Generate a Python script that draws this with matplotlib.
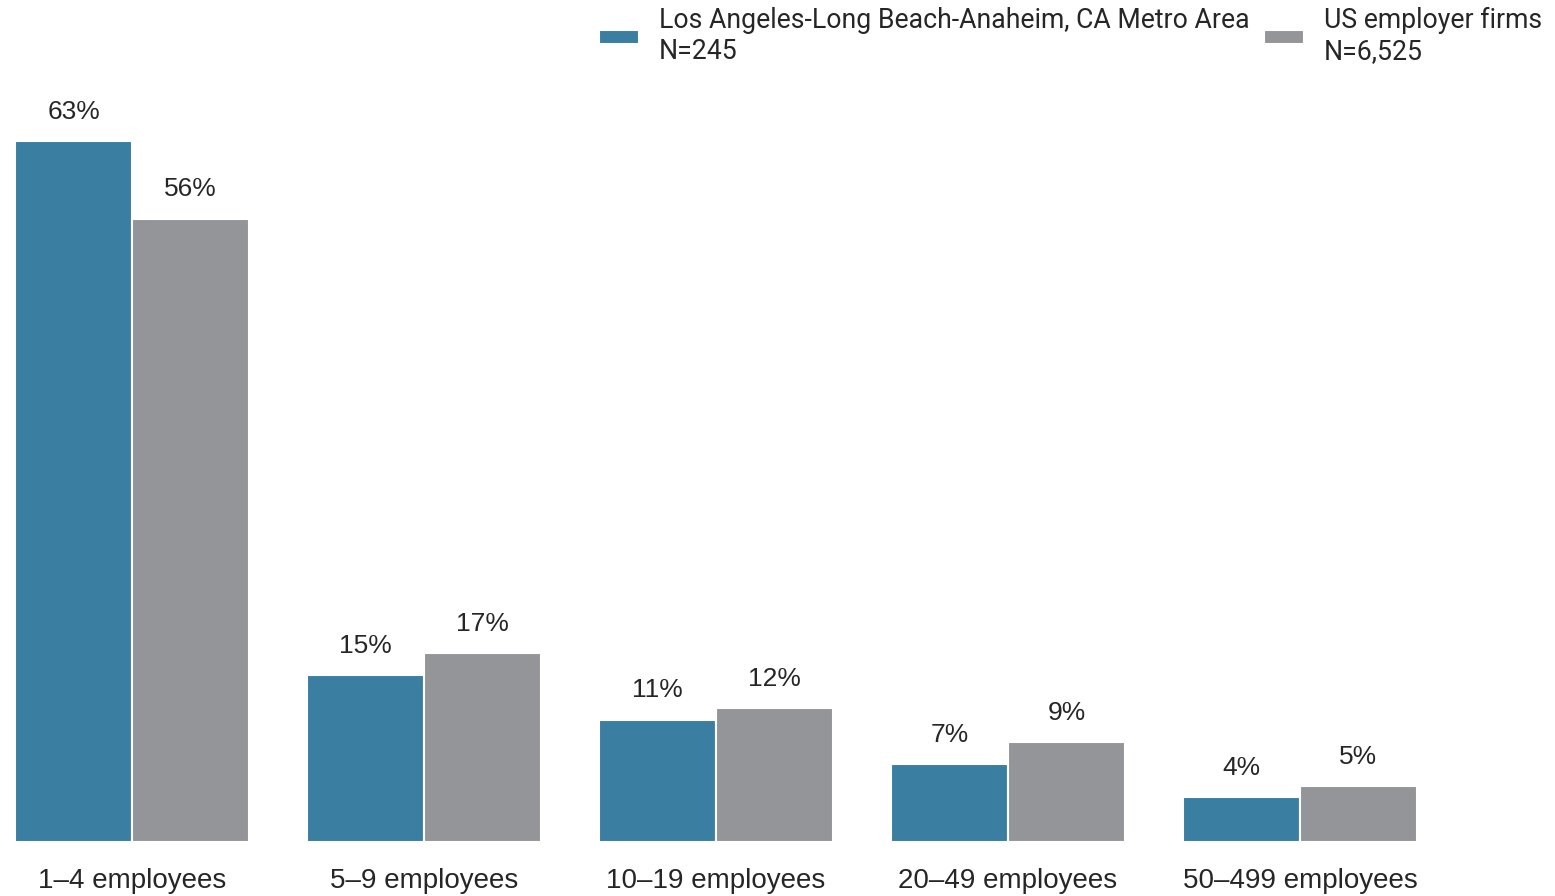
import matplotlib
matplotlib.use("Agg")
import matplotlib.pyplot as plt
import numpy as np

categories = ["1–4 employees", "5–9 employees", "10–19 employees",
              "20–49 employees", "50–499 employees"]
la_metro = [63, 15, 11, 7, 4]
us_firms = [56, 17, 12, 9, 5]
series_names = ["Los Angeles-Long Beach-Anaheim, CA Metro Area\nN=245",
                "US employer firms\nN=6,525"]

blue = "#3a7ea1"
gray = "#939598"
text_color = "#262626"

fig = plt.figure(figsize=(15.55, 8.96), dpi=100)
ax = fig.add_axes([0, 1 - 842 / 896, 1, 842 / 896])

x = np.arange(len(categories))
w = 0.4
b1 = ax.bar(x - w / 2, la_metro, width=w, color=blue, edgecolor="white", linewidth=1.5)
b2 = ax.bar(x + w / 2, us_firms, width=w, color=gray, edgecolor="white", linewidth=1.5)

for bars, vals in ((b1, la_metro), (b2, us_firms)):
    for rect, v in zip(bars, vals):
        ax.annotate(f"{v}%", (rect.get_x() + rect.get_width() / 2, v),
                    xytext=(0, 16), textcoords="offset points",
                    ha="center", va="baseline", fontsize=19,
                    family="Liberation Sans", color=text_color)

ax.set_xlim(-132 / 292, (1555 - 132) / 292)
ax.set_ylim(0, 842 / 11.13)
ax.set_xticks(x, categories, fontsize=20, family="Liberation Sans", color=text_color)
ax.tick_params(axis="x", length=0, pad=19)
ax.set_yticks([])
for s in ax.spines.values():
    s.set_visible(False)

leg = fig.legend([b1, b2], series_names, loc="upper right",
                 bbox_to_anchor=(1542 / 1555, 1 - 7 / 896), ncol=2,
                 frameon=False, borderpad=0, borderaxespad=0,
                 handlelength=1.5, handleheight=0.45, handletextpad=0.75,
                 columnspacing=0.55, prop={"family": "Roboto", "size": 19.2})
for t in leg.get_texts():
    t.set_color(text_color)

fig.savefig("out.png", dpi=100)
